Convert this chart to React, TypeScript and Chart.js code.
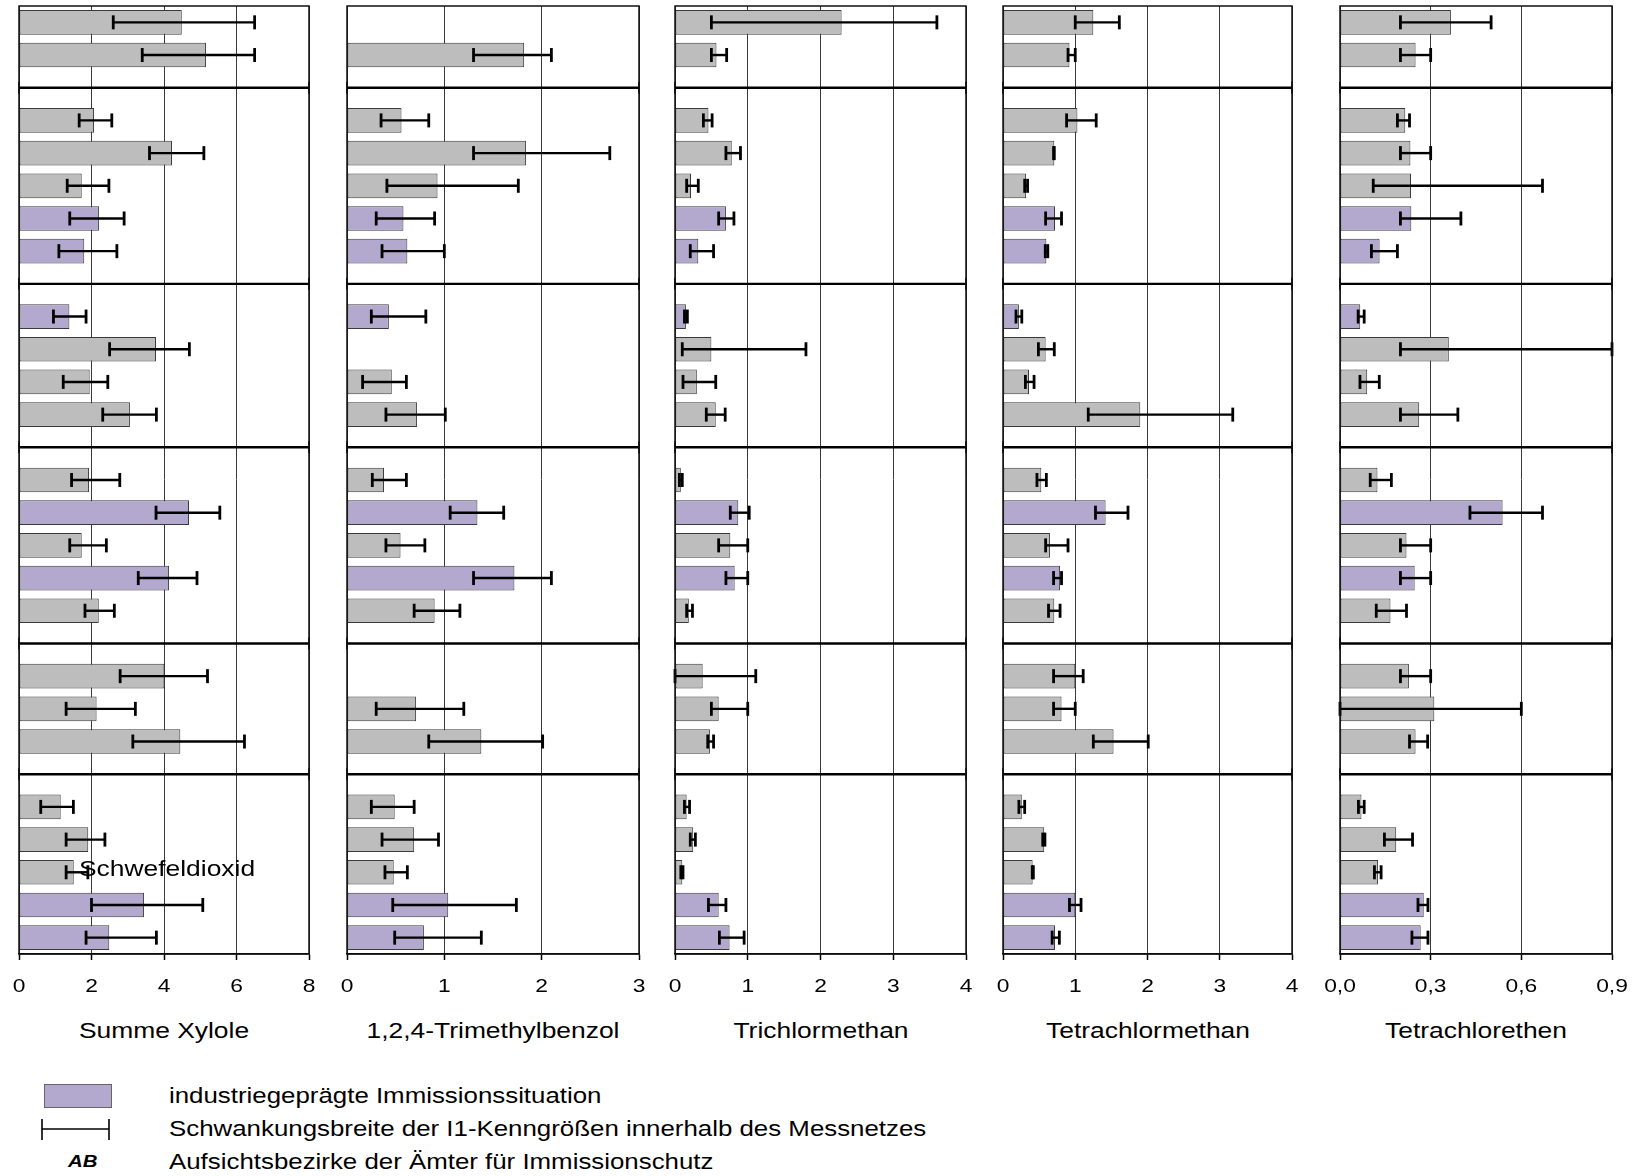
import React, { useEffect, useRef } from "react";
import { Chart, registerables } from "chart.js";

Chart.register(...registerables);

// ---------- categories (29 slots; "" = separator between Aufsichtsbezirke) ----------
const slotLabels = [
  "AB1-1", "AB1-2", "",
  "AB2-1", "AB2-2", "AB2-3", "AB2-4", "AB2-5", "",
  "AB3-1", "AB3-2", "AB3-3", "AB3-4", "",
  "AB4-1", "AB4-2", "AB4-3", "AB4-4", "AB4-5", "",
  "AB5-1", "AB5-2", "AB5-3", "",
  "AB6-1", "AB6-2", "AB6-3", "AB6-4", "AB6-5",
];
const separatorSlots = [2, 8, 13, 19, 23];
const industrial = [
  false, false, false,
  false, false, false, true, true, false,
  true, false, false, false, false,
  false, true, false, true, false, false,
  false, false, false, false,
  false, false, false, true, true,
];

// ---------- Summe Xylole ----------
const xyloleMean = [4.49, 5.16, null, 2.07, 4.22, 1.73, 2.21, 1.8, null, 1.39, 3.78, 1.95, 3.06, null, 1.93, 4.69, 1.73, 4.14, 2.2, null, 4.01, 2.14, 4.45, null, 1.15, 1.91, 1.51, 3.45, 2.49];
const xyloleMin = [2.6, 3.4, null, 1.66, 3.6, 1.33, 1.4, 1.1, null, 0.95, 2.5, 1.22, 2.31, null, 1.45, 3.78, 1.4, 3.29, 1.82, null, 2.79, 1.3, 3.14, null, 0.6, 1.3, 1.3, 2.0, 1.85];
const xyloleMax = [6.5, 6.5, null, 2.56, 5.1, 2.48, 2.9, 2.7, null, 1.85, 4.7, 2.45, 3.79, null, 2.78, 5.54, 2.41, 4.91, 2.63, null, 5.2, 3.21, 6.22, null, 1.5, 2.37, 1.9, 5.07, 3.79];
const xyloleTicks = [0, 2, 4, 6, 8];
const xyloleTickLabels = ["0", "2", "4", "6", "8"];

// ---------- 1,2,4-Trimethylbenzol ----------
const tmbMean = [null, 1.82, null, 0.56, 1.84, 0.93, 0.58, 0.62, null, 0.43, null, 0.46, 0.72, null, 0.38, 1.34, 0.55, 1.72, 0.9, null, null, 0.71, 1.38, null, 0.49, 0.69, 0.48, 1.04, 0.79];
const tmbMin = [null, 1.3, null, 0.35, 1.3, 0.41, 0.3, 0.36, null, 0.25, null, 0.16, 0.4, null, 0.26, 1.06, 0.4, 1.3, 0.69, null, null, 0.3, 0.84, null, 0.25, 0.36, 0.39, 0.47, 0.49];
const tmbMax = [null, 2.1, null, 0.84, 2.7, 1.76, 0.9, 1.0, null, 0.81, null, 0.61, 1.01, null, 0.61, 1.61, 0.8, 2.1, 1.16, null, null, 1.2, 2.01, null, 0.69, 0.94, 0.62, 1.74, 1.38];
const tmbTicks = [0, 1, 2, 3];
const tmbTickLabels = ["0", "1", "2", "3"];

// ---------- Trichlormethan ----------
const trichlorMean = [2.29, 0.57, null, 0.46, 0.78, 0.22, 0.7, 0.32, null, 0.15, 0.5, 0.3, 0.56, null, 0.08, 0.87, 0.76, 0.82, 0.19, null, 0.38, 0.6, 0.48, null, 0.16, 0.25, 0.1, 0.6, 0.75];
const trichlorMin = [0.5, 0.5, null, 0.39, 0.7, 0.16, 0.6, 0.21, null, 0.13, 0.1, 0.11, 0.43, null, 0.06, 0.76, 0.6, 0.7, 0.16, null, 0.0, 0.5, 0.45, null, 0.13, 0.21, 0.08, 0.46, 0.61];
const trichlorMax = [3.6, 0.71, null, 0.51, 0.9, 0.32, 0.81, 0.53, null, 0.17, 1.8, 0.56, 0.69, null, 0.1, 1.02, 1.0, 1.0, 0.24, null, 1.11, 1.0, 0.53, null, 0.2, 0.28, 0.11, 0.7, 0.95];
const trichlorTicks = [0, 1, 2, 3, 4];
const trichlorTickLabels = ["0", "1", "2", "3", "4"];

// ---------- Tetrachlormethan ----------
const tetraMean = [1.25, 0.92, null, 1.03, 0.71, 0.32, 0.72, 0.6, null, 0.22, 0.59, 0.36, 1.9, null, 0.53, 1.42, 0.65, 0.79, 0.71, null, 1.0, 0.81, 1.53, null, 0.26, 0.57, 0.41, 1.0, 0.72];
const tetraMin = [1.0, 0.9, null, 0.88, 0.7, 0.3, 0.59, 0.585, null, 0.18, 0.49, 0.31, 1.18, null, 0.47, 1.28, 0.59, 0.7, 0.63, null, 0.7, 0.7, 1.25, null, 0.22, 0.55, 0.405, 0.92, 0.68];
const tetraMax = [1.61, 1.0, null, 1.29, 0.71, 0.34, 0.81, 0.62, null, 0.26, 0.71, 0.43, 3.18, null, 0.6, 1.73, 0.9, 0.81, 0.79, null, 1.11, 1.0, 2.01, null, 0.3, 0.58, 0.42, 1.08, 0.78];
const tetraTicks = [0, 1, 2, 3, 4];
const tetraTickLabels = ["0", "1", "2", "3", "4"];

// ---------- Tetrachlorethen ----------
const perMean = [0.367, 0.25, null, 0.216, 0.233, 0.235, 0.236, 0.131, null, 0.067, 0.36, 0.09, 0.262, null, 0.124, 0.538, 0.22, 0.247, 0.167, null, 0.228, 0.312, 0.25, null, 0.071, 0.186, 0.126, 0.277, 0.267];
const perMin = [0.2, 0.2, null, 0.19, 0.2, 0.11, 0.2, 0.104, null, 0.06, 0.2, 0.066, 0.2, null, 0.1, 0.43, 0.2, 0.2, 0.12, null, 0.2, 0.0, 0.23, null, 0.061, 0.147, 0.114, 0.258, 0.238];
const perMax = [0.5, 0.3, null, 0.23, 0.3, 0.67, 0.4, 0.19, null, 0.08, 0.9, 0.13, 0.39, null, 0.17, 0.67, 0.3, 0.3, 0.22, null, 0.3, 0.6, 0.29, null, 0.08, 0.24, 0.136, 0.291, 0.291];
const perTicks = [0, 0.3, 0.6, 0.9];
const perTickLabels = ["0,0", "0,3", "0,6", "0,9"];

const titles = ["Summe Xylole", "1,2,4-Trimethylbenzol", "Trichlormethan", "Tetrachlormethan", "Tetrachlorethen"];
const axisMax = [8, 3, 4, 4, 0.9];

const legendLabels = [
  "industriegeprägte Immissionssituation",
  "Schwankungsbreite der I1-Kenngrößen innerhalb des Messnetzes",
  "Aufsichtsbezirke der Ämter für Immissionschutz",
];
const strayLabel = "Schwefeldioxid";

type Series = (number | null)[];
interface PanelData {
  title: string;
  mean: Series;
  lo: Series;
  hi: Series;
  max: number;
  ticks: number[];
  tickLabels: string[];
}

const panels: PanelData[] = [
  { title: titles[0], mean: xyloleMean, lo: xyloleMin, hi: xyloleMax, max: axisMax[0], ticks: xyloleTicks, tickLabels: xyloleTickLabels },
  { title: titles[1], mean: tmbMean, lo: tmbMin, hi: tmbMax, max: axisMax[1], ticks: tmbTicks, tickLabels: tmbTickLabels },
  { title: titles[2], mean: trichlorMean, lo: trichlorMin, hi: trichlorMax, max: axisMax[2], ticks: trichlorTicks, tickLabels: trichlorTickLabels },
  { title: titles[3], mean: tetraMean, lo: tetraMin, hi: tetraMax, max: axisMax[3], ticks: tetraTicks, tickLabels: tetraTickLabels },
  { title: titles[4], mean: perMean, lo: perMin, hi: perMax, max: axisMax[4], ticks: perTicks, tickLabels: perTickLabels },
];

// ---------- layout / style ----------
const plotLefts = [19, 347, 675, 1003, 1340];
const plotWidths = [290, 292, 291, 289, 272];
const PAD = 30;
const CANVAS_H = 1000;
const PLOT_TOP = 6;
const PAD_BOTTOM = 40;
const TICK_LEN = 6;
const GRAY = "#bdbdbd";
const PURPLE = "#b3a9cf";
const BAR_BORDER = "#3a3a3a";
const GRID = "#3a3a3a";
const FONT = '"Liberation Sans", Arial, Helvetica, sans-serif';
const STRETCH = 1.2;
const LEGEND_STRETCH = 1.175;

function PanelChart({ p, left, width }: { p: PanelData; left: number; width: number }) {
  const ref = useRef<HTMLCanvasElement | null>(null);
  useEffect(() => {
    const canvas = ref.current;
    if (!canvas) return;
    const overlay = {
      id: "overlay",
      afterDatasetsDraw(chart: any) {
        const ctx: CanvasRenderingContext2D = chart.ctx;
        const xs = chart.scales.x;
        const ys = chart.scales.y;
        const { left: l, right: r, top: t, bottom: b } = chart.chartArea;
        ctx.save();
        ctx.strokeStyle = "#000";
        ctx.lineCap = "butt";
        const line = (x1: number, y1: number, x2: number, y2: number) => {
          ctx.beginPath();
          ctx.moveTo(x1, y1);
          ctx.lineTo(x2, y2);
          ctx.stroke();
        };
        // error bars (range of I1 values)
        p.lo.forEach((lo, i) => {
          const hi = p.hi[i];
          if (lo == null || hi == null) return;
          const y = ys.getPixelForValue(i);
          const x1 = xs.getPixelForValue(lo);
          const x2 = xs.getPixelForValue(hi);
          ctx.lineWidth = 2.4;
          line(x1, y, x2, y);
          ctx.lineWidth = 2.8;
          line(x1, y - 7, x1, y + 7);
          line(x2, y - 7, x2, y + 7);
        });
        // separators between districts
        separatorSlots.forEach((s) => {
          const y = ys.getPixelForValue(s);
          ctx.lineWidth = 2.4;
          line(l, y, r, y);
          ctx.lineWidth = 1.6;
          line(l, y - 6, l, y + 6);
          line(r, y - 6, r, y + 6);
        });
        // frame
        ctx.lineWidth = 1.5;
        ctx.strokeStyle = "#111";
        ctx.strokeRect(l, t, r - l, b - t);
        // tick labels
        ctx.fillStyle = "#000";
        ctx.font = `19px ${FONT}`;
        ctx.textAlign = "center";
        ctx.textBaseline = "alphabetic";
        p.ticks.forEach((v, i) => {
          const x = xs.getPixelForValue(v);
          ctx.save();
          ctx.translate(x, 992);
          ctx.scale(STRETCH, 1);
          ctx.fillText(p.tickLabels[i], 0, 0);
          ctx.restore();
        });
        ctx.restore();
      },
    };
    const chart = new Chart(canvas, {
      type: "bar",
      data: {
        labels: slotLabels,
        datasets: [
          {
            data: p.mean as any,
            backgroundColor: industrial.map((f) => (f ? PURPLE : GRAY)),
            borderColor: BAR_BORDER,
            borderWidth: 1,
            borderSkipped: false,
            barPercentage: 0.755,
            categoryPercentage: 1,
          },
        ],
      },
      options: {
        indexAxis: "y",
        responsive: false,
        maintainAspectRatio: false,
        animation: false,
        layout: { padding: { top: PLOT_TOP, left: PAD, right: PAD, bottom: PAD_BOTTOM } },
        plugins: { legend: { display: false }, tooltip: { enabled: false } },
        scales: {
          x: {
            type: "linear",
            min: 0,
            max: p.max,
            ticks: { display: false, stepSize: p.ticks[1] - p.ticks[0] },
            grid: { color: GRID, lineWidth: 1, drawTicks: true, tickLength: TICK_LEN, tickColor: "#000", tickWidth: 1.5 },
            border: { display: true, color: "#000", width: 1.5 },
          },
          y: { type: "category", display: false },
        },
      } as any,
      plugins: [overlay],
    });
    return () => chart.destroy();
  }, [p]);
  return (
    <canvas
      ref={ref}
      width={width + 2 * PAD}
      height={CANVAS_H}
      style={{ position: "absolute", left: left - PAD, top: 0, display: "block" }}
    />
  );
}

const textStyle = (size: number, stretch: number = STRETCH): React.CSSProperties => ({
  position: "absolute",
  fontFamily: FONT,
  fontSize: size,
  lineHeight: "26px",
  color: "#000",
  whiteSpace: "nowrap",
  transform: `scaleX(${stretch})`,
});

export default function App() {
  return (
    <div style={{ position: "absolute", left: 0, top: 0, width: 1645, height: 1176, background: "#fff", overflow: "hidden" }}>
      {panels.map((p, i) => (
        <PanelChart key={i} p={p} left={plotLefts[i]} width={plotWidths[i]} />
      ))}
      {panels.map((p, i) => (
        <div
          key={"t" + i}
          style={{
            ...textStyle(22),
            left: plotLefts[i] + plotWidths[i] / 2 - 200,
            width: 400,
            top: 1031 - 13,
            textAlign: "center",
            transformOrigin: "center center",
          }}
        >
          {p.title}
        </div>
      ))}
      <div style={{ ...textStyle(22), left: 79, top: 869 - 13, transformOrigin: "left center" }}>{strayLabel}</div>

      {/* legend */}
      <div style={{ position: "absolute", left: 44, top: 1084, width: 66, height: 22, background: PURPLE, border: "1px solid #666" }} />
      <svg style={{ position: "absolute", left: 38, top: 1114, overflow: "visible" }} width={76} height={30}>
        <line x1={4} y1={15} x2={71} y2={15} stroke="#000" strokeWidth={1.6} />
        <line x1={4} y1={5} x2={4} y2={26} stroke="#000" strokeWidth={1.6} />
        <line x1={71} y1={5} x2={71} y2={26} stroke="#000" strokeWidth={1.6} />
      </svg>
      <div
        style={{
          ...textStyle(17),
          left: 68,
          top: 1162 - 13,
          fontWeight: "bold",
          fontStyle: "italic",
          transformOrigin: "left center",
        }}
      >
        AB
      </div>
      {legendLabels.map((t, i) => (
        <div key={"l" + i} style={{ ...textStyle(22, LEGEND_STRETCH), left: 169, top: [1096, 1129, 1162][i] - 13, transformOrigin: "left center" }}>
          {t}
        </div>
      ))}
    </div>
  );
}
